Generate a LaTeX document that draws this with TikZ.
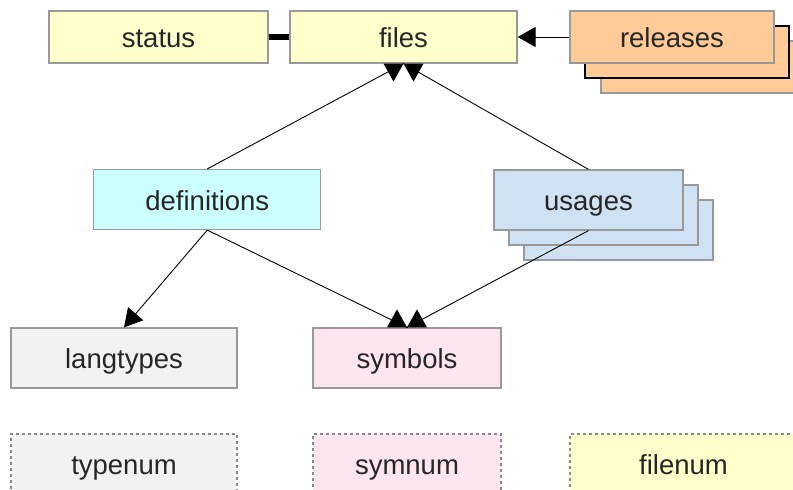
\documentclass[tikz,border=0pt]{standalone}
\usepackage{fontspec}
\setmainfont{Liberation Sans}
\usetikzlibrary{arrows.meta}
\definecolor{cyel}{HTML}{FFFFCC}
\definecolor{corange}{HTML}{FFCC99}
\definecolor{ccyan}{HTML}{CCFFFF}
\definecolor{cblue}{HTML}{CFE2F3}
\definecolor{cgray}{HTML}{F2F2F2}
\definecolor{cpink}{HTML}{FDE5EF}
\definecolor{cborder}{HTML}{999999}
\definecolor{cdash}{HTML}{888888}
\definecolor{ctext}{HTML}{262626}
\tikzset{
  box/.style={draw=cborder, line width=1.2pt, inner sep=0pt, minimum height=60pt,
    text height=21pt, text depth=0pt,
    text=ctext, font=\fontsize{27.5}{30}\selectfont},
  topbox/.style={box, minimum height=52pt},
  dbox/.style={box, dash pattern=on 3pt off 3pt, line width=1.2pt, draw=cdash},
  conn/.style={draw=black, line width=0.9pt},
  tri/.style={-{Triangle[length=18pt,width=20pt]}},
}
\begin{document}
\begin{tikzpicture}[x=1pt,y=-1pt]
\useasboundingbox (0,0) rectangle (793,490);
\clip (0,0) rectangle (793,490);
% top row
\node[topbox, fill=cyel, minimum width=219pt] (status) at (158.5,37) {status};
\node[topbox, fill=cyel, minimum width=227pt] (files) at (403.5,37) {files};
\node[topbox, fill=corange, minimum width=204pt] (rel3) at (703,67) {};
\node[topbox, fill=corange, draw=black, minimum width=204pt] (rel2) at (687,52) {};
\node[topbox, fill=corange, minimum width=204pt] (rel) at (672,37) {releases};
% middle row
\node[box, fill=ccyan, minimum width=227pt] (defs) at (207.3,199.5) {definitions};
\node[box, fill=cblue, minimum width=189pt] (use3) at (618.5,230) {};
\node[box, fill=cblue, minimum width=189pt] (use2) at (603.5,215) {};
\node[box, fill=cblue, minimum width=189pt] (use) at (588.5,200) {usages};
% lower row
\node[box, fill=cgray, minimum width=226pt] (lang) at (124,358) {langtypes};
\node[box, fill=cpink, minimum width=188pt] (sym) at (407,358) {symbols};
% bottom row
\node[dbox, fill=cgray, minimum width=226pt] (typenum) at (124,464) {typenum};
\node[dbox, fill=cpink, minimum width=188pt] (symnum) at (407,464) {symnum};
\node[dbox, fill=cyel, minimum width=227pt] (filenum) at (683.5,464) {filenum};
% connectors
\draw[line width=6.5pt] (status.east) -- (files.west);
\draw[conn, tri] (rel.west) -- (files.east);
\draw[conn] (defs.north) -- (files.south);
\draw[conn] (use.north) -- (files.south);
\draw[conn, tri] (defs.south) -- (lang.north);
\draw[conn] (defs.south) -- (sym.north);
\draw[conn] (use.south) -- (sym.north);
% reversed heads at files
\fill[black] ([xshift=-20pt]files.south) -- (files.south) -- ([xshift=-10pt,yshift=-18pt]files.south) -- cycle;
\fill[black] (files.south) -- ([xshift=20pt]files.south) -- ([xshift=10pt,yshift=-18pt]files.south) -- cycle;
% reversed heads at symbols
\fill[black] ([xshift=-20pt]sym.north) -- (sym.north) -- ([xshift=-10pt,yshift=18pt]sym.north) -- cycle;
\fill[black] (sym.north) -- ([xshift=20pt]sym.north) -- ([xshift=10pt,yshift=18pt]sym.north) -- cycle;
\end{tikzpicture}
\end{document}
